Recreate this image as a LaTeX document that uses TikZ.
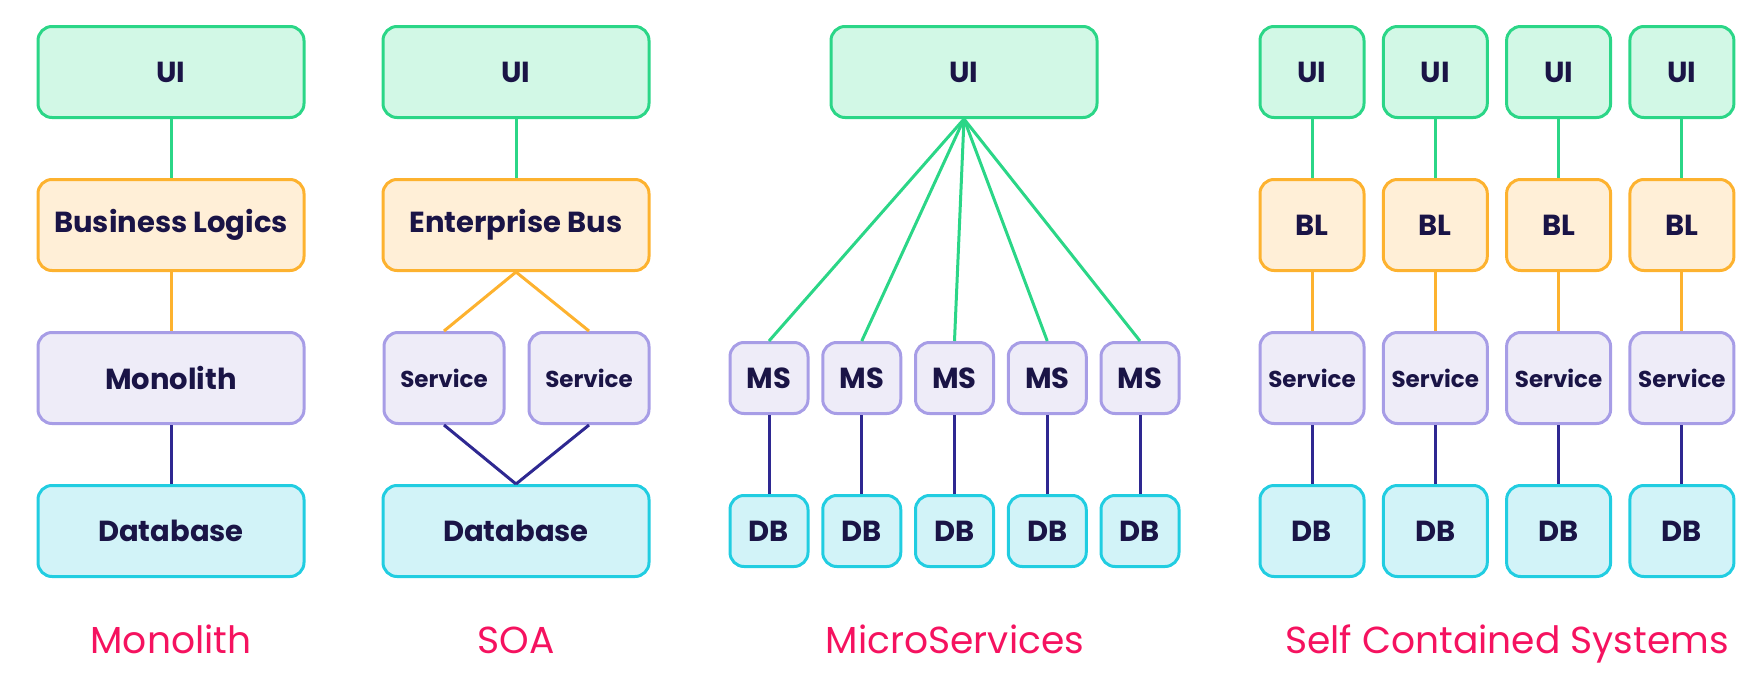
\documentclass[tikz,border=0pt]{standalone}
\usepackage{fontspec}
\setmainfont{Poppins}
\usepackage{tikz}
\definecolor{uiline}{HTML}{2BD687}
\definecolor{uifill}{HTML}{D2F8E6}
\definecolor{blline}{HTML}{FDB22F}
\definecolor{blfill}{HTML}{FFEFD7}
\definecolor{svline}{HTML}{A79DE6}
\definecolor{svfill}{HTML}{EEECF8}
\definecolor{dbline}{HTML}{21CDE1}
\definecolor{dbfill}{HTML}{D2F3F8}
\definecolor{ink}{HTML}{1A1446}
\definecolor{dblink}{HTML}{2E2891}
\definecolor{title}{HTML}{F5125F}
\tikzstyle{box}=[rectangle,line width=1.5pt,rounded corners=7pt,inner sep=0pt,text=ink,font=\bfseries\fontsize{14.5}{16}\selectfont]
\tikzstyle{ui}=[box,draw=uiline,fill=uifill,minimum height=45.5pt]
\tikzstyle{bl}=[box,draw=blline,fill=blfill,minimum height=45.5pt]
\tikzstyle{svc}=[box,draw=svline,fill=svfill,minimum height=45.5pt]
\tikzstyle{db}=[box,draw=dbline,fill=dbfill,minimum height=45.5pt]
\tikzstyle{small}=[font=\bfseries\fontsize{11.5}{14}\selectfont]
\tikzstyle{caption}=[text=title,anchor=base,font=\fontsize{18.8}{22}\selectfont]

\begin{document}
\begin{tikzpicture}[x=0.5pt,y=-0.5pt,line width=1.5pt]
    \useasboundingbox (0,0) rectangle (1763,696);

    % Monolith
    \node[ui,minimum width=133pt] (mui) at (171,72) {UI};
    \node[bl,minimum width=133pt] (mbl) at (171,225) {Business Logics};
    \node[svc,minimum width=133pt] (mmono) at (171,378) {Monolith};
    \node[db,minimum width=133pt] (mdb) at (171,531) {Database};
    \draw[uiline] (mui) -- (mbl);
    \draw[blline] (mbl) -- (mmono);
    \draw[dblink] (mmono) -- (mdb);

    % SOA
    \node[ui,minimum width=133pt] (sui) at (516,72) {UI};
    \node[bl,minimum width=133pt] (sbus) at (516,225) {Enterprise Bus};
    \node[svc,small,minimum width=60pt] (ssv1) at (444,378) {Service};
    \node[svc,small,minimum width=60pt] (ssv2) at (589,378) {Service};
    \node[db,minimum width=133pt] (sdb) at (516,531) {Database};
    \draw[uiline] (sui) -- (sbus);
    \foreach \i in {1,2} {
        \draw[blline] (sbus.south) -- (ssv\i.north);
        \draw[dblink] (ssv\i.south) -- (sdb.north);
    };

    % MicroServices
    \node[ui,minimum width=133pt] (uui) at (964,72) {UI};
    \foreach \i in {1,...,5} {
        \node[svc,minimum width=39pt,minimum height=35.5pt] (ums\i) at (769+92.75*\i-92.75,378) {MS};
        \node[db,minimum width=39pt,minimum height=35.5pt] (udb\i) at (769+92.75*\i-92.75,531) {DB};
        \draw[uiline] (uui.south) -- (ums\i.north);
        \draw[dblink] (ums\i) -- (udb\i);
    };

    % Self Contained Systems
    \foreach \i in {1,...,4} {
        \node[ui,minimum width=52pt] (cui\i) at (1312+123.3*\i-123.3,72) {UI};
        \node[bl,minimum width=52pt] (cbl\i) at (1312+123.3*\i-123.3,225) {BL};
        \node[svc,small,minimum width=52pt] (csv\i) at (1312+123.3*\i-123.3,378) {Service};
        \node[db,minimum width=52pt] (cdb\i) at (1312+123.3*\i-123.3,531) {DB};
        \draw[uiline] (cui\i) -- (cbl\i);
        \draw[blline] (cbl\i) -- (csv\i);
        \draw[dblink] (csv\i) -- (cdb\i);
    };

    % captions
    \node[caption] (tmono) at (171,653) {Monolith};
    \node[caption] (tsoa) at (516,653) {SOA};
    \node[caption] (tms) at (955,653) {MicroServices};
    \node[caption] (tscs) at (1507,653) {Self Contained Systems};
\end{tikzpicture}
\end{document}
